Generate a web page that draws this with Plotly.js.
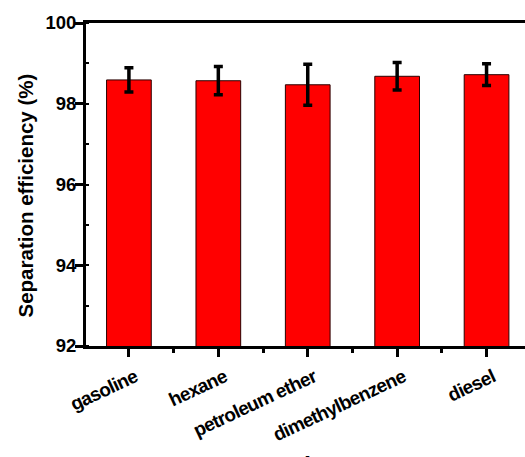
<!DOCTYPE html>
<html>
<head>
<meta charset="utf-8">
<script src="https://cdn.plot.ly/plotly-3.0.1.min.js"></script>
<style>
  html, body { margin: 0; padding: 0; background: #fff; }
  #chart { width: 525px; height: 457px; }
  /* slightly tighter tracking on the solvent names */
  #chart .xtick text { letter-spacing: -0.7px; }
</style>
</head>
<body>
<div id="chart"></div>
<script>
// Oil/water separation efficiency for each organic solvent
const solvents = ["gasoline", "hexane", "petroleum ether", "dimethylbenzene", "diesel"];
const efficiency = [98.59, 98.57, 98.47, 98.68, 98.72];
const errorBars = [0.30, 0.35, 0.51, 0.34, 0.27];
const yTicks = [92, 94, 96, 98, 100];

const positions = solvents.map((_, i) => i);
const FONT = "Liberation Sans, Arial, sans-serif";

// plot-area geometry in pixels
const W = 525, H = 457;
const M = { l: 86, r: 0, t: 23, b: 111 };
const plotW = W - M.l - M.r;
const plotH = H - M.t - M.b;
const toPaperX = px => (px - M.l) / plotW;
const toPaperY = py => (H - M.b - py) / plotH;

const trace = {
  type: "bar",
  x: positions,
  y: efficiency,
  base: 0,
  width: 0.5,
  marker: { color: "#ff0000", line: { color: "#2a0000", width: 1 } },
  error_y: {
    type: "data",
    array: errorBars,
    visible: true,
    color: "#000",
    thickness: 3.5,
    width: 4.5
  },
  hoverinfo: "skip"
};

const layout = {
  width: W,
  height: H,
  margin: M,
  paper_bgcolor: "#fff",
  plot_bgcolor: "#fff",
  showlegend: false,
  font: { family: FONT, color: "#000" },
  xaxis: {
    range: [-0.48, 4.43],
    tickvals: positions,
    ticktext: solvents,
    tickangle: -25,
    ticklabelshift: 6,
    ticklabelstandoff: 2,
    tickfont: { family: FONT, size: 19, weight: "bold", color: "#000" },
    showgrid: false,
    zeroline: false,
    showline: true,
    linecolor: "#000",
    linewidth: 3,
    mirror: true,
    ticks: "outside",
    ticklen: 8,
    tickwidth: 3,
    tickcolor: "#000",
    minor: { tick0: 0.5, dtick: 1, ticks: "outside", ticklen: 4, tickwidth: 3, tickcolor: "#000" }
  },
  yaxis: {
    range: [92, 100],
    tickvals: yTicks,
    ticktext: yTicks.map(String),
    tickfont: { family: FONT, size: 18.5, weight: "bold", color: "#000" },
    ticklabelstandoff: -5,
    showgrid: false,
    zeroline: false,
    showline: true,
    linecolor: "#000",
    linewidth: 3,
    mirror: true,
    ticks: "outside",
    ticklen: 8,
    tickwidth: 3,
    tickcolor: "#000",
    minor: { dtick: 1, ticks: "inside", ticklen: 3, tickwidth: 2, tickcolor: "#000" }
  },
  annotations: [
    {
      // y-axis title
      text: "Separation efficiency (%)",
      textangle: -90,
      xref: "paper", yref: "paper",
      x: toPaperX(25), y: toPaperY(195.5),
      xanchor: "center", yanchor: "middle",
      showarrow: false,
      font: { family: FONT, size: 20.5, weight: "bold", color: "#000" }
    },
    {
      // panel letter below the solvent names
      text: "A",
      x: 2, xref: "x",
      yref: "paper", y: toPaperY(450.5),
      yanchor: "top",
      showarrow: false,
      font: { family: FONT, size: 18, weight: "bold", color: "#000" }
    }
  ]
};

Plotly.newPlot("chart", [trace], layout, { staticPlot: true, displayModeBar: false });
</script>
</body>
</html>
